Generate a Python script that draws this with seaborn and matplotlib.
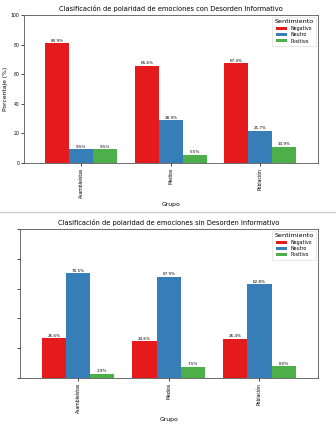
import matplotlib
matplotlib.use("Agg")
import matplotlib.pyplot as plt
from matplotlib.lines import Line2D
import seaborn as sns
import pandas as pd

grupos = ["Asambleístas", "Medios", "Población"]
sentimientos = ["Negativo", "Neutro", "Positivo"]

# Con Desorden Informativo
con_negativo = [80.9, 65.6, 67.4]
con_neutro = [9.5, 28.9, 21.7]
con_positivo = [9.5, 5.5, 10.9]

# Sin Desorden Informativo
sin_negativo = [26.6, 24.6, 26.4]
sin_neutro = [70.5, 67.9, 62.8]
sin_positivo = [2.9, 7.5, 8.0]

yticks = [0, 20, 40, 60, 80, 100]


def long_df(neg, neu, pos):
    rows = []
    for s, vals in zip(sentimientos, [neg, neu, pos]):
        for g, v in zip(grupos, vals):
            rows.append({"Grupo": g, "Sentimiento": s, "Porcentaje": v})
    return pd.DataFrame(rows)


palette = dict(zip(sentimientos, ["#e41a1c", "#377eb8", "#4daf4a"]))

W, H = 336, 426
fig = plt.figure(figsize=(W / 100, H / 100), dpi=100)


def panel(rect_px, df, title, show_ylabels):
    l, t, r, b = rect_px
    ax = fig.add_axes([l / W, 1 - b / H, (r - l) / W, (b - t) / H])
    sns.barplot(data=df, x="Grupo", y="Porcentaje", hue="Sentimiento",
                order=grupos, hue_order=sentimientos, palette=palette,
                saturation=1, width=0.8, ax=ax, errorbar=None)
    for c in ax.containers:
        ax.bar_label(c, fmt="%.1f%%", fontsize=3, padding=0.3)
    ax.set_xlim(-0.64, 2.645)
    ax.set_ylim(0, 100)
    ax.set_yticks(yticks)
    if show_ylabels:
        ax.set_ylabel("Porcentaje (%)", fontsize=4.3, labelpad=2)
        ax.tick_params(axis="y", labelsize=3.3, length=2, width=0.5, pad=1.5)
    else:
        ax.set_ylabel("")
        ax.set_yticklabels([])
        ax.tick_params(axis="y", length=2, width=0.5)
    ax.tick_params(axis="x", labelsize=3.3, rotation=90, length=2, width=0.5, pad=1.5)
    ax.set_xlabel("Grupo", fontsize=4.4, labelpad=3)
    ax.set_title(title, fontsize=4.8, pad=3)
    for sp in ax.spines.values():
        sp.set_linewidth(0.6)
        sp.set_color("#555555")
    leg = ax.legend(title="Sentimiento", loc="upper right", fontsize=3.4,
                    title_fontsize=4.6, handlelength=2.4, handleheight=0.6,
                    borderpad=0.5, labelspacing=0.3, frameon=True,
                    fancybox=True, framealpha=0.8, borderaxespad=0.4)
    leg.get_frame().set_linewidth(0.4)
    return ax


panel((24, 15, 318, 163), long_df(con_negativo, con_neutro, con_positivo),
      "Clasificación de polaridad de emociones con Desorden Informativo", True)
panel((20, 229, 318, 378), long_df(sin_negativo, sin_neutro, sin_positivo),
      "Clasificación de polaridad de emociones sin Desorden Informativo", False)

fig.add_artist(Line2D([0, 1], [1 - 212 / H, 1 - 212 / H], color="#d0d0d0",
                      linewidth=1.0, transform=fig.transFigure))

fig.savefig("out.png", dpi=100)
